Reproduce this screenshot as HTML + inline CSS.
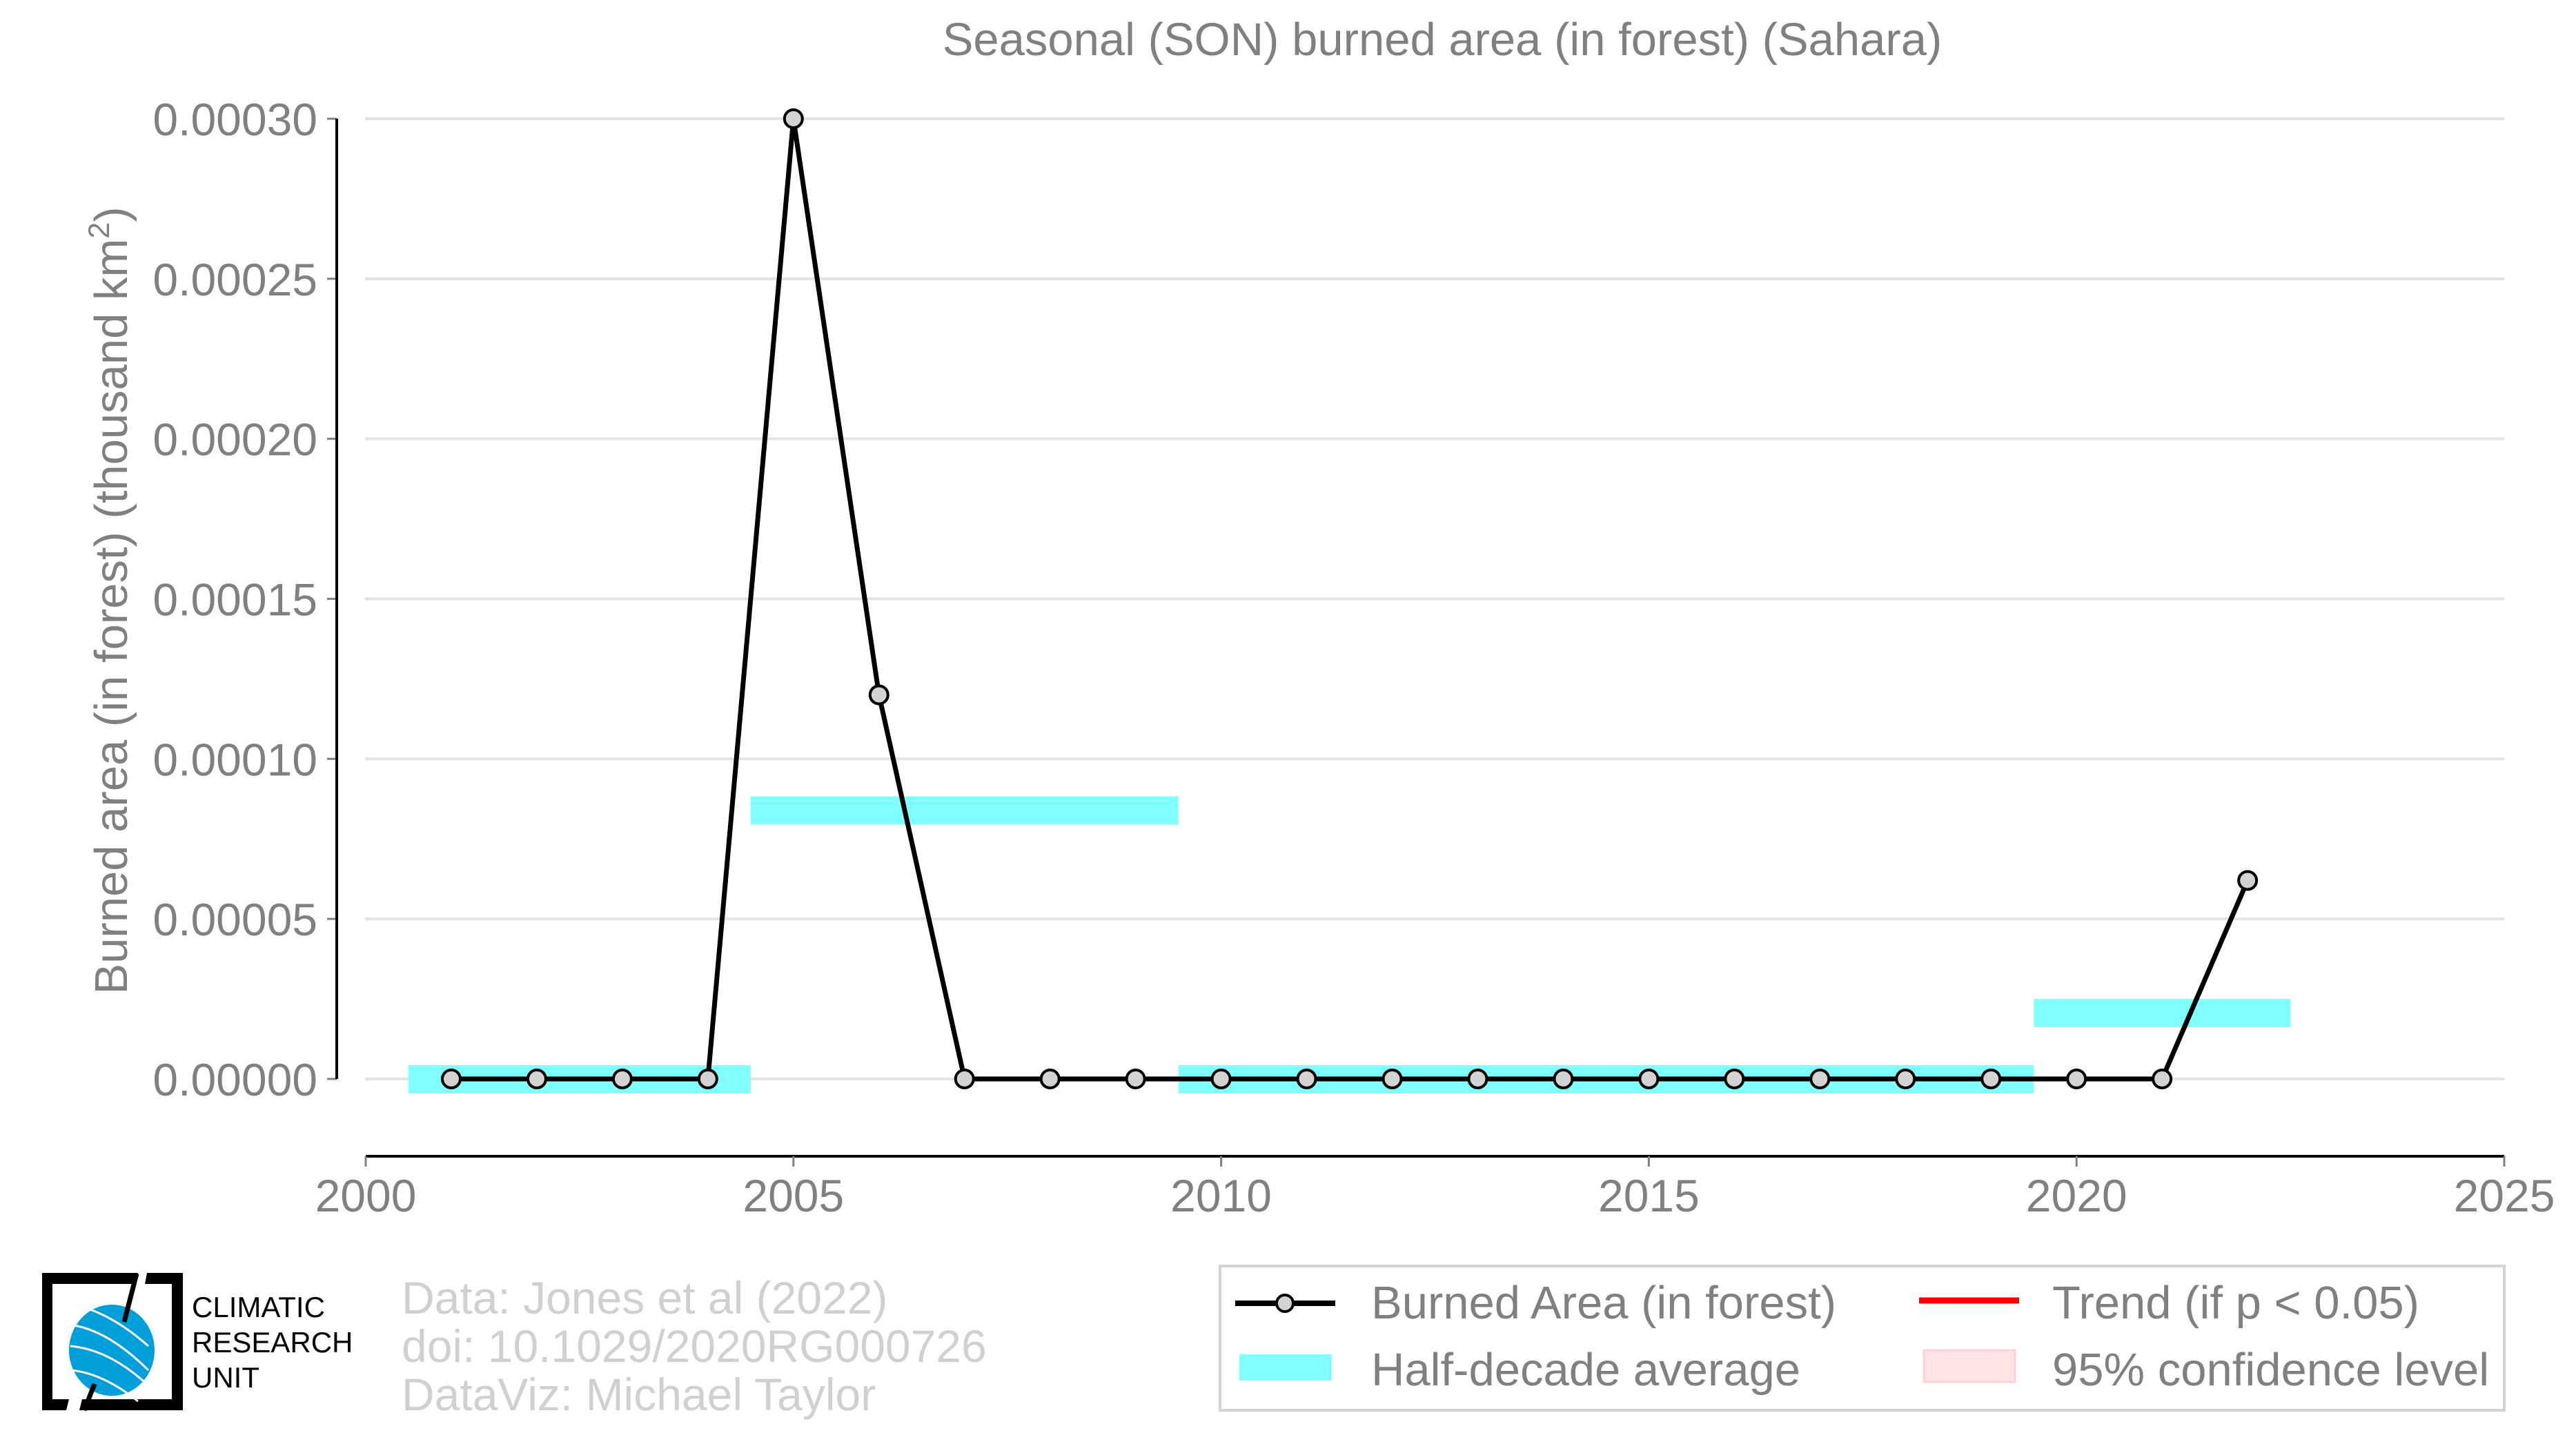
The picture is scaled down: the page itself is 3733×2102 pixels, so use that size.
<!DOCTYPE html>
<html><head><meta charset="utf-8"><style>
html,body{margin:0;padding:0;background:#fff;}
svg{display:block;font-family:"Liberation Sans",Arial,sans-serif;}
</style></head><body>
<svg id="chart" width="3733" height="2102" viewBox="0 0 3733 2102" xmlns="http://www.w3.org/2000/svg">
<rect width="3733" height="2102" fill="#fff"/>
<text x="2090" y="80" font-size="67" fill="#808080" text-anchor="middle">Seasonal (SON) burned area (in forest) (Sahara)</text>
<g id="grid"></g>
<g id="bars"></g>
<g id="series"></g>
<g id="axes"></g>
<text transform="translate(184,870) rotate(-90)" font-size="67" fill="#808080" text-anchor="middle">Burned area (in forest) (thousand km<tspan font-size="43" dy="-26">2</tspan><tspan dy="26">)</tspan></text>

<g>
<rect x="1768" y="1834" width="1861" height="209" fill="#fff" stroke="#d3d3d3" stroke-width="4"/>
<line x1="1790" y1="1888" x2="1935" y2="1888" stroke="#000" stroke-width="8"/>
<circle cx="1862" cy="1888" r="12" fill="#d3d3d3" stroke="#000" stroke-width="4"/>
<text x="1987" y="1910" font-size="67" fill="#808080">Burned Area (in forest)</text>
<rect x="1796" y="1962" width="134" height="38" fill="#80ffff"/>
<text x="1987" y="2007" font-size="67" fill="#808080">Half-decade average</text>
<line x1="2781" y1="1884" x2="2926" y2="1884" stroke="#ff0000" stroke-width="9"/>
<text x="2974" y="1910" font-size="67" fill="#808080">Trend (if p &lt; 0.05)</text>
<rect x="2788" y="1956" width="132" height="46" fill="#ffe4e6" stroke="#ffd0d3" stroke-width="3"/>
<text x="2974" y="2007" font-size="67" fill="#808080">95% confidence level</text>
</g>

<g>
<path d="M61,1844 H200 L194,1860 H76 V2027 H100 L96,2043 H61 Z" fill="#000"/>
<path d="M213,1844 H265 V2043 H115 L119,2027 H249 V1860 H210 Z" fill="#000"/>
<ellipse cx="162" cy="1956" rx="62" ry="66" fill="#009fda"/>
<path d="M108,1920 Q160,1930 215,1985 M102,1950 Q160,1955 218,2010 M104,1985 Q150,1990 200,2030 M125,1895 Q170,1910 215,1950" stroke="#fff" stroke-width="3" fill="none"/>
<line x1="198" y1="1845" x2="180" y2="1915" stroke="#000" stroke-width="7"/>
<line x1="137" y1="2005" x2="122" y2="2043" stroke="#000" stroke-width="7"/>
<text x="278" y="1908" font-size="42" fill="#000">CLIMATIC</text>
<text x="278" y="1959" font-size="42" fill="#000">RESEARCH</text>
<text x="278" y="2010" font-size="42" fill="#000">UNIT</text>
</g>
<g font-size="66" fill="#d0d0d0">
<text x="582" y="1903">Data: Jones et al (2022)</text>
<text x="582" y="1973">doi: 10.1029/2020RG000726</text>
<text x="582" y="2043">DataViz: Michael Taylor</text>
</g>
</svg>
<script>
const years = [2001,2002,2003,2004,2005,2006,2007,2008,2009,2010,2011,2012,2013,2014,2015,2016,2017,2018,2019,2020,2021,2022];
const values = [0,0,0,0,0.0003,0.00012,0,0,0,0,0,0,0,0,0,0,0,0,0,0,0,0.000062];
const barStarts = [2000.5,2004.5,2009.5,2014.5,2019.5];
const barEnds = [2004.5,2009.5,2014.5,2019.5,2022.5];
const barValues = [0,0.000084,0,0,0.0000207];
const yTicks = [0,0.00005,0.0001,0.00015,0.0002,0.00025,0.0003];
const yTickLabels = ["0.00000","0.00005","0.00010","0.00015","0.00020","0.00025","0.00030"];
const xTicks = [2000,2005,2010,2015,2020,2025];

const NS="http://www.w3.org/2000/svg";
const X = v => 530 + (v-2000)*(3629-530)/25;
const Y = v => 1563 - v*(1563-172)/0.0003;
function mk(tag, attrs, parent){const e=document.createElementNS(NS,tag);for(const k in attrs)e.setAttribute(k,attrs[k]);document.getElementById(parent).appendChild(e);return e;}

yTicks.forEach((t,i)=>{
  const g=mk('line',{x1:529,x2:3629,y1:Y(t),y2:Y(t),stroke:'#e3e3e3','stroke-width':4},'grid');
  
  
  const tk=mk('line',{x1:474,x2:488,y1:Y(t),y2:Y(t),stroke:'#808080','stroke-width':3},'axes');
  
  
  const tx=mk('text',{x:460,y:Y(t)+24,'font-size':66,fill:'#808080','text-anchor':'end'},'axes');
  tx.textContent=yTickLabels[i];
  
  
});
const ya=mk('line',{x1:488,x2:488,y1:172,y2:1563,stroke:'#000','stroke-width':4},'axes');


const xa=mk('line',{x1:530,x2:3629,y1:1675,y2:1675,stroke:'#000','stroke-width':4},'axes');


xTicks.forEach(t=>{
  const tk=mk('line',{x1:X(t),x2:X(t),y1:1675,y2:1690,stroke:'#808080','stroke-width':3},'axes');
  
  
  const tx=mk('text',{x:X(t),y:1755,'font-size':66,fill:'#808080','text-anchor':'middle'},'axes');
  tx.textContent=t;
  
  
});
barValues.forEach((v,i)=>{
  const r=mk('rect',{x:X(barStarts[i]),y:Y(v)-20,width:X(barEnds[i])-X(barStarts[i]),height:41,fill:'#80ffff'},'bars');
  
  
});
const pl=mk('polyline',{points:years.map((y,i)=>X(y)+','+Y(values[i])).join(' '),fill:'none',stroke:'#000','stroke-width':7,'stroke-linejoin':'round'},'series');


years.forEach((y,i)=>{
  const c=mk('circle',{cx:X(y),cy:Y(values[i]),r:13,fill:'#d3d3d3',stroke:'#000','stroke-width':4},'series');
  
  
});
</script>
</body></html>
